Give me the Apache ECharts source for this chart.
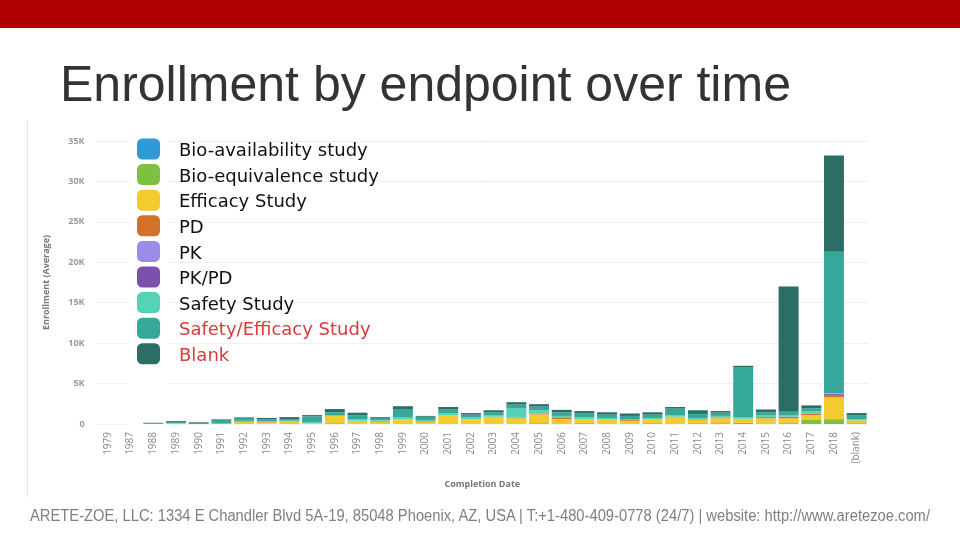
<!DOCTYPE html>
<html>
<head>
<meta charset="utf-8">
<script src="https://cdn.jsdelivr.net/npm/echarts@6/dist/echarts.min.js"></script>
<style>
body { margin: 0; width: 960px; height: 540px; overflow: hidden; background: #fff; position: relative; font-family: 'Liberation Sans', Arial, sans-serif; }
#bar { position: absolute; left: 0; top: 0; width: 960px; height: 28px; background: #ae0000; }
#frame { position: absolute; left: 27px; top: 120px; width: 1px; height: 377px; background: #e4e4e4; }
#chart { position: absolute; left: 0; top: 0; width: 960px; height: 540px; }
#title { position: absolute; left: 60px; top: 59px; font-size: 50px; line-height: 1; color: #333; white-space: nowrap; }
#footer { position: absolute; left: 30px; top: 508px; font-size: 16px; line-height: 1; color: #7f7f7f; white-space: nowrap; transform-origin: 0 0; }
</style>
</head>
<body>
<div id="bar"></div>
<div id="frame"></div>
<div id="chart"></div>
<div id="title">Enrollment by endpoint over time</div>
<div id="footer">ARETE-ZOE, LLC: 1334 E Chandler Blvd 5A-19, 85048 Phoenix, AZ, USA | T:+1-480-409-0778 (24/7) | website: http://www.aretezoe.com/</div>
<script>
// categories (completion date)
const years = ['1979', '1987', '1988', '1989', '1990', '1991', '1992', '1993', '1994', '1995',
    '1996', '1997', '1998', '1999', '2000', '2001', '2002', '2003', '2004', '2005',
    '2006', '2007', '2008', '2009', '2010', '2011', '2012', '2013', '2014', '2015',
    '2016', '2017', '2018', '(blank)'];

// average enrollment per endpoint
const bioAvail  = [0, 0, 0, 0, 0, 0, 0, 0, 0, 0, 0, 0, 0, 0, 0, 0, 0, 0, 0, 0, 0, 0, 0, 0, 0, 0, 0, 0, 0, 0, 0, 0, 100, 0];
const bioEquiv  = [0, 0, 0, 0, 0, 0, 0, 50, 0, 0, 100, 0, 0, 0, 0, 0, 0, 0, 0, 100, 0, 100, 0, 0, 100, 0, 100, 100, 150, 0, 100, 500, 500, 100];
const efficacy  = [0, 0, 0, 100, 0, 50, 250, 150, 300, 100, 900, 400, 300, 600, 250, 1100, 600, 900, 700, 1100, 600, 500, 550, 400, 500, 900, 400, 600, 500, 700, 600, 600, 2700, 350];
const pd        = [0, 0, 0, 0, 0, 0, 0, 50, 0, 0, 0, 0, 100, 0, 0, 0, 0, 0, 100, 100, 150, 0, 0, 100, 0, 0, 0, 100, 0, 150, 200, 200, 200, 0];
const pk        = [0, 0, 0, 0, 0, 0, 0, 0, 0, 0, 0, 0, 0, 0, 100, 0, 0, 0, 0, 0, 0, 0, 0, 100, 0, 0, 0, 0, 0, 0, 0, 0, 0, 0];
const pkpd      = [0, 0, 0, 0, 0, 0, 0, 0, 0, 0, 0, 0, 0, 0, 0, 0, 0, 0, 0, 0, 0, 0, 0, 0, 0, 0, 0, 0, 0, 0, 0, 0, 200, 0];
const safety    = [0, 0, 0, 0, 0, 0, 150, 100, 100, 150, 100, 200, 100, 250, 100, 200, 200, 150, 1100, 400, 250, 250, 200, 0, 150, 200, 200, 200, 150, 200, 200, 250, 100, 150];
const safetyEff = [0, 0, 80, 150, 200, 500, 400, 250, 200, 700, 350, 500, 250, 1000, 450, 550, 350, 400, 500, 450, 450, 450, 400, 400, 400, 800, 550, 400, 6250, 400, 400, 400, 17500, 450];
const blank     = [0, 0, 70, 100, 50, 50, 50, 150, 250, 150, 400, 300, 100, 350, 100, 250, 200, 250, 300, 300, 300, 300, 300, 300, 300, 200, 450, 200, 150, 350, 15500, 350, 11900, 300];

const names = ['Bio-availability study', 'Bio-equivalence study', 'Efficacy Study', 'PD', 'PK', 'PK/PD',
    'Safety Study', 'Safety/Efficacy Study', 'Blank'];
const values = [bioAvail, bioEquiv, efficacy, pd, pk, pkpd, safety, safetyEff, blank];
const colors = ['#2f9ad6', '#7fc043', '#f4cb2f', '#d2722a', '#9a8ce8', '#7d50ad', '#55d3b7', '#35a89b', '#2a6e66'];
const redNames = ['Safety/Efficacy Study', 'Blank'];

const yTicks = ['0', '5K', '10K', '15K', '20K', '25K', '30K', '35K'];

let series = names.map((name, i) => ({
    name: name,
    type: 'bar',
    stack: 'total',
    barCategoryGap: '12%',
    itemStyle: { color: colors[i] },
    data: values[i]
}));

let myChart = echarts.init(document.getElementById('chart'));
myChart.setOption({
    animation: false,
    textStyle: { fontFamily: 'Open Sans, Liberation Sans, sans-serif' },
    color: colors,
    grid: { left: 96.6, right: 92, top: 141, bottom: 116 },
    legend: {
        data: names,
        orient: 'vertical',
        left: 137,
        top: 138.5,
        padding: 0,
        itemWidth: 23,
        itemHeight: 21,
        itemGap: 3.6,
        icon: 'roundRect',
        textStyle: {
            fontFamily: 'DejaVu Sans, sans-serif',
            fontSize: 18,
            lineHeight: 16,
            color: '#111',
            padding: [5, 0, 0, 14],
            rich: {
                red: { fontFamily: 'DejaVu Sans, sans-serif', fontSize: 18, lineHeight: 16, color: '#d93a3a' }
            }
        },
        formatter: function (name) {
            return redNames.indexOf(name) >= 0 ? '{red|' + name + '}' : name;
        }
    },
    // white patch behind the legend swatches (hides the grid lines there)
    graphic: [{
        type: 'rect',
        z: 1,
        shape: { x: 128, y: 135, width: 40, height: 291 },
        style: { fill: '#fff' }
    }],
    xAxis: {
        type: 'category',
        data: years,
        name: 'Completion Date',
        nameLocation: 'middle',
        nameGap: 56,
        nameTextStyle: { fontSize: 9, fontWeight: 'bold', color: '#777' },
        axisLine: { show: false },
        axisTick: { show: false },
        axisLabel: { rotate: 90, fontSize: 10, color: '#8a8a8a', margin: 8 }
    },
    yAxis: {
        type: 'value',
        min: 0,
        max: 35000,
        interval: 5000,
        name: 'Enrollment (Average)',
        nameLocation: 'middle',
        nameGap: 46,
        nameTextStyle: { fontSize: 9, fontWeight: 'bold', color: '#777' },
        axisLabel: {
            fontSize: 9,
            fontWeight: 'bold',
            color: '#9a9a9a',
            margin: 12,
            formatter: function (v) { return yTicks[v / 5000]; }
        },
        splitLine: { lineStyle: { color: '#efefef' } }
    },
    series: series
});

// squeeze the footer so it spans the same width as in the slide
let footer = document.getElementById('footer');
let w = footer.getBoundingClientRect().width;
footer.style.transform = 'scaleX(' + (900 / w) + ')';
</script>
</body>
</html>
